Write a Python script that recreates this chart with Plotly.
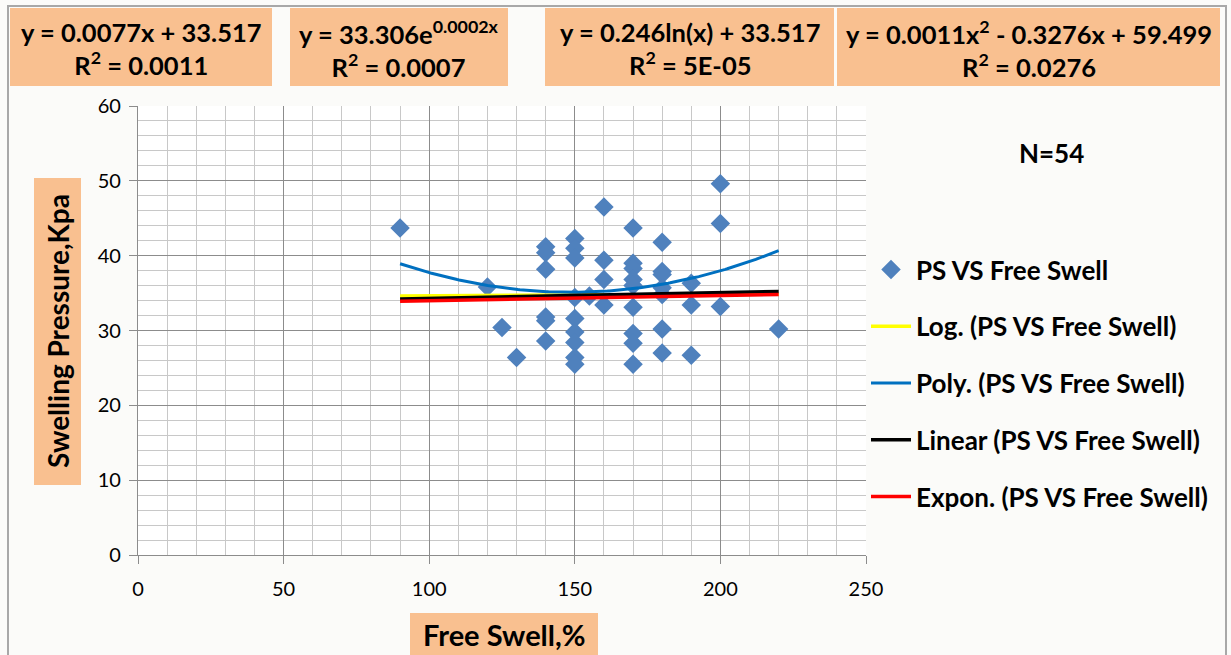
import numpy as np
import plotly.graph_objects as go

# Measured data: free swell (%) vs swelling pressure (kPa)
free_swell = [90, 120, 125, 130,
              140, 140, 140, 140, 140, 140,
              150, 150, 150, 150, 150, 150, 150, 150, 150,
              155,
              160, 160, 160, 160,
              170, 170, 170, 170, 170, 170, 170, 170, 170,
              180, 180, 180, 180, 180, 180, 180,
              190, 190, 190,
              200, 200, 200,
              220]
swelling_pressure = [43.7, 35.8, 30.4, 26.4,
                     41.2, 40.4, 38.2, 31.8, 31.3, 28.6,
                     42.3, 41.0, 39.7, 34.4, 31.6, 29.8, 28.4, 26.4, 25.5,
                     34.6,
                     46.5, 39.4, 36.8, 33.4,
                     43.7, 39.0, 38.3, 36.8, 36.0, 33.1, 29.6, 28.3, 25.5,
                     41.8, 37.9, 37.5, 35.7, 34.8, 30.2, 27.0,
                     36.3, 33.4, 26.7,
                     49.6, 44.3, 33.2,
                     30.2]

# Trendline coefficients as reported in the equation boxes
linear_coef = [0.0077, 33.517]            # y = a*x + b
expon_coef = [33.306, 0.0002]             # y = a*e^(b*x)
log_coef = [0.246, 33.517]                # y = a*ln(x) + b
poly_coef = [0.0011, -0.3276, 59.499]     # y = a*x^2 + b*x + c

equation_texts = [
    "y = 0.0077x + 33.517<br>R<sup>2</sup> = 0.0011",
    "y = 33.306e<sup>0.0002x</sup><br>R<sup>2</sup> = 0.0007",
    "y = 0.246ln(x) + 33.517<br>R<sup>2</sup> = 5E-05",
    "y = 0.0011x<sup>2</sup> - 0.3276x + 59.499<br>R<sup>2</sup> = 0.0276",
]

W, H = 1231, 655
L, R, T, B = 138, 866, 106, 555     # plot area in pixels


def px(x):
    return (x - L) / (R - L)


def py(y):
    return (B - y) / (B - T)


xs = np.linspace(min(free_swell), max(free_swell), 200)
y_lin = np.polyval(linear_coef, xs)
y_exp = expon_coef[0] * np.exp(expon_coef[1] * xs)
y_log = log_coef[0] * np.log(xs) + log_coef[1]
y_poly = np.polyval(poly_coef, xs)

FONT = "Lato"
fig = go.Figure()
fig.add_trace(go.Scatter(
    x=free_swell, y=swelling_pressure, mode="markers", name="PS VS Free Swell",
    marker=dict(symbol="diamond", size=15, color="#4f81bd"), legendgroup="a"))
fig.add_trace(go.Scatter(x=xs, y=y_log, mode="lines", name="Log. (PS VS Free Swell)",
                         line=dict(color="#ffff00", width=3.5), legendgroup="b"))
fig.add_trace(go.Scatter(x=xs, y=y_poly, mode="lines", name="Poly. (PS VS Free Swell)",
                         line=dict(color="#0070c0", width=3), legendgroup="c"))
fig.add_trace(go.Scatter(x=xs, y=y_lin, mode="lines", name="Linear (PS VS Free Swell)",
                         line=dict(color="#000000", width=3.5), legendgroup="d"))
fig.add_trace(go.Scatter(x=xs, y=y_exp, mode="lines", name="Expon. (PS VS Free Swell)",
                         line=dict(color="#ff0000", width=3.5), legendgroup="e"))

shapes = []
annotations = []
box_fill = "#f9c090"


def label(x, y, text, size, angle=0):
    annotations.append(dict(xref="paper", yref="paper", x=px(x), y=py(y),
                            xanchor="center", yanchor="middle", textangle=angle,
                            text=f"<b>{text}</b>", showarrow=False, align="center",
                            font=dict(family=FONT, size=size, color="black")))


def box(x0, x1, y0, y1):
    shapes.append(dict(type="rect", xref="paper", yref="paper",
                       x0=px(x0), x1=px(x1), y0=py(y1), y1=py(y0),
                       fillcolor=box_fill, line=dict(width=0), layer="below"))


# Equation boxes along the top
eq_boxes = [(10, 272), (290, 508), (545, 834), (837, 1220)]
for (x0, x1), txt in zip(eq_boxes, equation_texts):
    box(x0, x1, 8, 86)
    label((x0 + x1) / 2, 48, txt, 25.5)

# Axis title boxes
box(34, 81, 178, 485)
label(58, 331, "Swelling Pressure,Kpa", 28, angle=-90)
box(410, 598, 613, 660)
label(504, 634, "Free Swell,%", 29)

# Sample count
label(1051, 153, "N=54", 26)

# Outer frame
shapes.append(dict(type="rect", xref="paper", yref="paper",
                   x0=px(8), x1=px(1226), y0=py(662), y1=py(6),
                   line=dict(color="#a8a8a8", width=2), layer="below"))

axis_common = dict(
    showgrid=True, gridcolor="#8c8c8c", gridwidth=1.3,
    showline=True, linecolor="#8c8c8c", linewidth=1.3,
    ticks="outside", ticklen=8, tickcolor="#8c8c8c", tickwidth=1.3,
    zeroline=False, tickfont=dict(family=FONT, size=20, color="black"),
)
fig.update_xaxes(range=[0, 250], dtick=50, tick0=0,
                 minor=dict(dtick=10, showgrid=True, gridcolor="#c8c8c8", gridwidth=1.3),
                 ticklabelstandoff=8, **axis_common)
fig.update_yaxes(range=[0, 60], dtick=10, tick0=0,
                 minor=dict(dtick=2, showgrid=True, gridcolor="#c8c8c8", gridwidth=1.3),
                 ticklabelstandoff=4, **axis_common)

fig.update_layout(
    width=W, height=H,
    margin=dict(l=L, r=W - R, t=T, b=H - B),
    paper_bgcolor="#fbfbf9", plot_bgcolor="white",
    shapes=shapes, annotations=annotations,
    legend=dict(x=px(866), y=py(246), xanchor="left", yanchor="top",
                bgcolor="rgba(0,0,0,0)", tracegroupgap=20, traceorder="grouped",
                font=dict(family=FONT, size=26, color="black"), itemwidth=40),
    showlegend=True,
)
# bold legend labels
for tr in fig.data:
    tr.name = f"<b>{tr.name}</b>"

fig.write_html("out.html")
